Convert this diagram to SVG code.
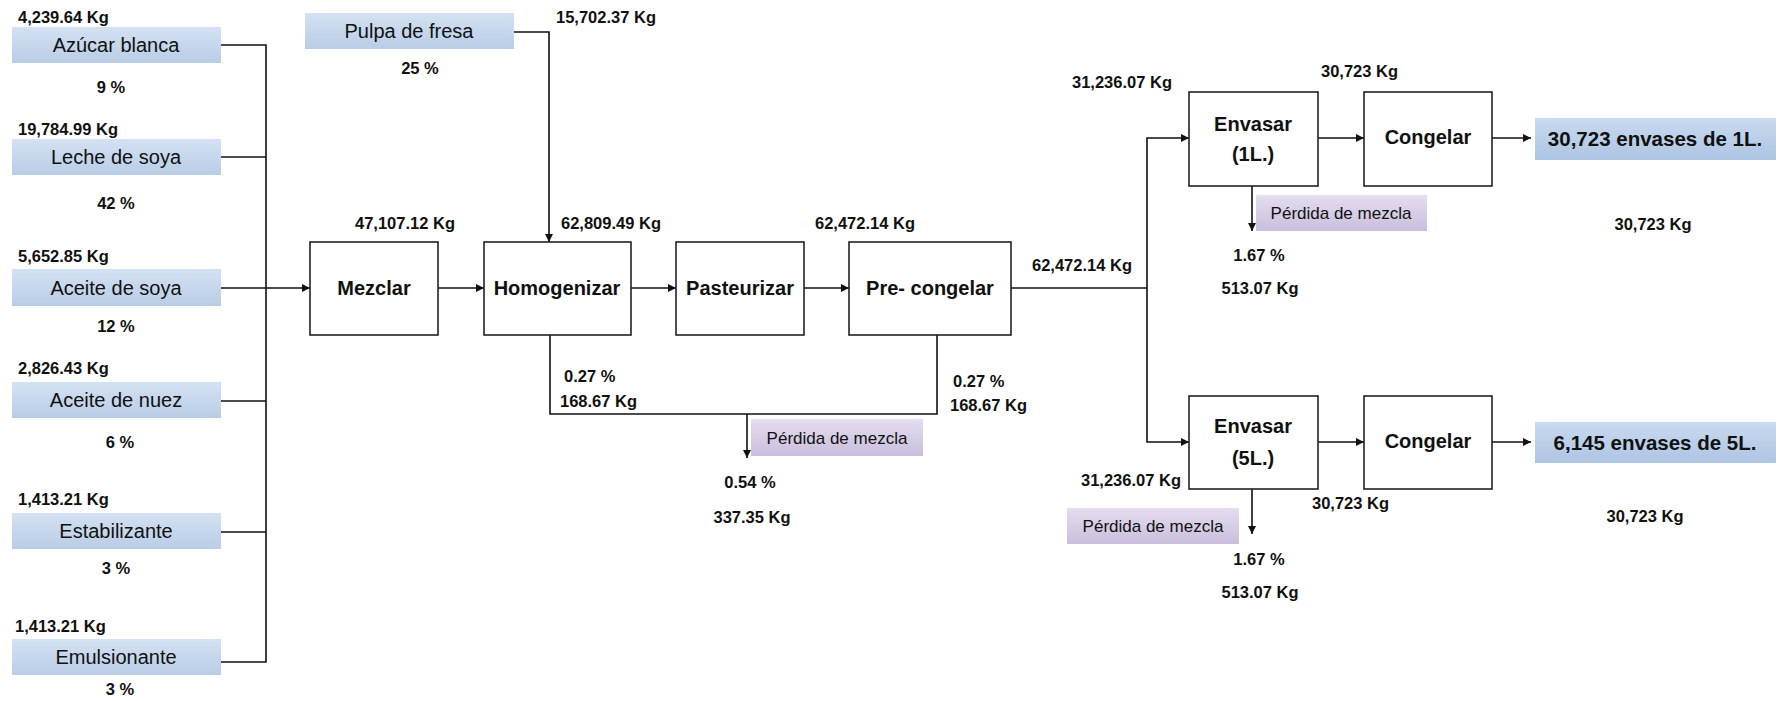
<svg xmlns="http://www.w3.org/2000/svg" width="1780" height="701" viewBox="0 0 1780 701">
<defs>
<linearGradient id="gBlue" x1="0" y1="0" x2="0" y2="1">
<stop offset="0" stop-color="#d4e1f2"/><stop offset="1" stop-color="#b9cde6"/>
</linearGradient>
<linearGradient id="gOut" x1="0" y1="0" x2="0" y2="1">
<stop offset="0" stop-color="#c9daf0"/><stop offset="1" stop-color="#adc4e2"/>
</linearGradient>
<linearGradient id="gLoss" x1="0" y1="0" x2="0" y2="1">
<stop offset="0" stop-color="#e4def0"/><stop offset="1" stop-color="#c9bedb"/>
</linearGradient>
<marker id="arr" viewBox="0 0 10 10" refX="10" refY="5" markerWidth="8" markerHeight="8" markerUnits="userSpaceOnUse" orient="auto">
<path d="M0,0 L10,5 L0,10 z" fill="#111"/>
</marker>
<style>
.in{fill:url(#gBlue);}
.out{fill:url(#gOut);}
.loss{fill:url(#gLoss);}
.proc{fill:#fff;stroke:#222;stroke-width:1.6;}
.ln{fill:none;stroke:#111;stroke-width:1.6;}
.ar{fill:none;stroke:#111;stroke-width:1.6;marker-end:url(#arr);}
text{font-family:"Liberation Sans",Arial,sans-serif;fill:#111;}
.lbl{font-size:20px;text-anchor:middle;}
.plbl{font-size:20px;font-weight:bold;text-anchor:middle;}
.olbl{font-size:20.5px;font-weight:bold;text-anchor:middle;}
.llbl{font-size:17px;text-anchor:middle;}
.w{font-size:16.5px;font-weight:bold;}
.wc{font-size:16.5px;font-weight:bold;text-anchor:middle;}
</style>
</defs>

<g id="connectors">
<polyline class="ln" points="221,45 266,45 266,662 221,662"/>
<line class="ln" x1="221" y1="157" x2="266" y2="157"/>
<line class="ln" x1="221" y1="401" x2="266" y2="401"/>
<line class="ln" x1="221" y1="532" x2="266" y2="532"/>
<line class="ar" x1="221" y1="288" x2="310" y2="288"/>
<polyline class="ar" points="514,32 549,32 549,242"/>
<line class="ar" x1="438" y1="288" x2="484" y2="288"/>
<line class="ar" x1="631" y1="288" x2="676" y2="288"/>
<line class="ar" x1="804" y1="288" x2="849" y2="288"/>
<polyline class="ln" points="550,335 550,414 937,414 937,335"/>
<line class="ar" x1="747" y1="414" x2="747" y2="458"/>
<polyline class="ln" points="1011,288 1147,288"/>
<polyline class="ar" points="1147,288 1147,138 1189,138"/>
<polyline class="ar" points="1147,288 1147,442 1189,442"/>
<line class="ar" x1="1318" y1="138" x2="1364" y2="138"/>
<line class="ar" x1="1492" y1="138" x2="1531" y2="138"/>
<line class="ar" x1="1252" y1="186" x2="1252" y2="231"/>
<line class="ar" x1="1318" y1="442" x2="1364" y2="442"/>
<line class="ar" x1="1492" y1="442" x2="1531" y2="442"/>
<line class="ar" x1="1252" y1="489" x2="1252" y2="534"/>
</g>

<g id="azucar">
<text class="w" x="18" y="23">4,239.64 Kg</text>
<rect class="in" x="12" y="27" width="209" height="36"/>
<text class="lbl" x="116" y="52">Azúcar blanca</text>
<text class="wc" x="111" y="93">9 %</text>
</g>
<g id="leche">
<text class="w" x="18" y="135">19,784.99 Kg</text>
<rect class="in" x="12" y="139" width="209" height="36"/>
<text class="lbl" x="116" y="164">Leche de soya</text>
<text class="wc" x="116" y="209">42 %</text>
</g>
<g id="aceite-soya">
<text class="w" x="18" y="262">5,652.85 Kg</text>
<rect class="in" x="12" y="269" width="209" height="37"/>
<text class="lbl" x="116" y="295">Aceite de soya</text>
<text class="wc" x="116" y="332">12 %</text>
</g>
<g id="aceite-nuez">
<text class="w" x="18" y="374">2,826.43 Kg</text>
<rect class="in" x="12" y="382" width="209" height="36"/>
<text class="lbl" x="116" y="407">Aceite de nuez</text>
<text class="wc" x="120" y="448">6 %</text>
</g>
<g id="estabilizante">
<text class="w" x="18" y="505">1,413.21 Kg</text>
<rect class="in" x="12" y="513" width="209" height="36"/>
<text class="lbl" x="116" y="538">Estabilizante</text>
<text class="wc" x="116" y="574">3 %</text>
</g>
<g id="emulsionante">
<text class="w" x="15" y="632">1,413.21 Kg</text>
<rect class="in" x="12" y="639" width="209" height="36"/>
<text class="lbl" x="116" y="664">Emulsionante</text>
<text class="wc" x="120" y="695">3 %</text>
</g>
<g id="pulpa">
<rect class="in" x="305" y="13" width="209" height="36"/>
<text class="lbl" x="409" y="38">Pulpa de fresa</text>
<text class="wc" x="420" y="74">25 %</text>
<text class="w" x="556" y="23">15,702.37 Kg</text>
</g>

<g id="mezclar">
<rect class="proc" x="310" y="242" width="128" height="93"/>
<text class="plbl" x="374" y="295">Mezclar</text>
<text class="w" x="355" y="229">47,107.12 Kg</text>
</g>
<g id="homogenizar">
<rect class="proc" x="484" y="242" width="147" height="93"/>
<text class="plbl" x="557" y="295">Homogenizar</text>
<text class="w" x="561" y="229">62,809.49 Kg</text>
<text class="w" x="564" y="382">0.27 %</text>
<text class="w" x="560" y="407">168.67 Kg</text>
</g>
<g id="pasteurizar">
<rect class="proc" x="676" y="242" width="128" height="93"/>
<text class="plbl" x="740" y="295">Pasteurizar</text>
<text class="w" x="815" y="229">62,472.14 Kg</text>
</g>
<g id="precongelar">
<rect class="proc" x="849" y="242" width="162" height="93"/>
<text class="plbl" x="930" y="295">Pre- congelar</text>
<text class="w" x="953" y="387">0.27 %</text>
<text class="w" x="950" y="411">168.67 Kg</text>
<text class="w" x="1032" y="271">62,472.14 Kg</text>
</g>
<g id="perdida1">
<rect class="loss" x="751" y="419" width="172" height="37"/>
<text class="llbl" x="837" y="444">Pérdida de mezcla</text>
<text class="wc" x="750" y="488">0.54 %</text>
<text class="wc" x="752" y="523">337.35 Kg</text>
</g>

<g id="envasar1">
<rect class="proc" x="1189" y="92" width="129" height="94"/>
<text class="plbl" x="1253" y="131">Envasar</text>
<text class="plbl" x="1253" y="161">(1L.)</text>
<text class="w" x="1072" y="88">31,236.07 Kg</text>
</g>
<g id="congelar1">
<rect class="proc" x="1364" y="92" width="128" height="94"/>
<text class="plbl" x="1428" y="144">Congelar</text>
<text class="w" x="1321" y="77">30,723 Kg</text>
</g>
<g id="salida1">
<rect class="out" x="1535" y="118" width="241" height="42"/>
<text class="olbl" x="1655" y="146">30,723 envases de 1L.</text>
<text class="wc" x="1653" y="230">30,723 Kg</text>
</g>
<g id="perdida2">
<rect class="loss" x="1256" y="195" width="171" height="36"/>
<text class="llbl" x="1341" y="219">Pérdida de mezcla</text>
<text class="wc" x="1259" y="261">1.67 %</text>
<text class="wc" x="1260" y="294">513.07 Kg</text>
</g>

<g id="envasar5">
<rect class="proc" x="1189" y="396" width="129" height="93"/>
<text class="plbl" x="1253" y="433">Envasar</text>
<text class="plbl" x="1253" y="465">(5L.)</text>
<text class="w" x="1081" y="486">31,236.07 Kg</text>
</g>
<g id="congelar5">
<rect class="proc" x="1364" y="396" width="128" height="93"/>
<text class="plbl" x="1428" y="448">Congelar</text>
<text class="w" x="1312" y="509">30,723 Kg</text>
</g>
<g id="salida5">
<rect class="out" x="1535" y="422" width="241" height="41"/>
<text class="olbl" x="1655" y="450">6,145 envases de 5L.</text>
<text class="wc" x="1645" y="522">30,723 Kg</text>
</g>
<g id="perdida3">
<rect class="loss" x="1067" y="508" width="172" height="36"/>
<text class="llbl" x="1153" y="532">Pérdida de mezcla</text>
<text class="wc" x="1259" y="565">1.67 %</text>
<text class="wc" x="1260" y="598">513.07 Kg</text>
</g>
</svg>
